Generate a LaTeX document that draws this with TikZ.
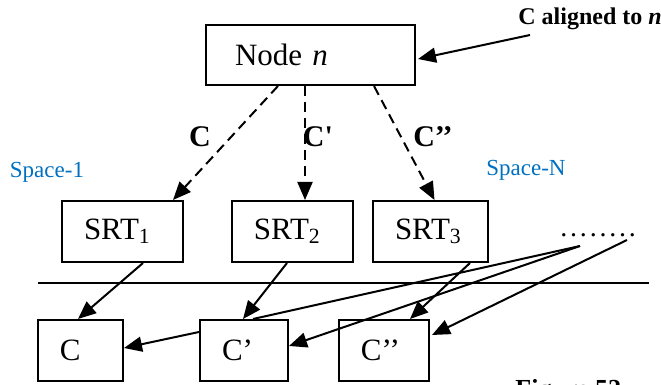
\documentclass[tikz,border=0pt]{standalone}
\usepackage{fontspec}
\setmainfont{Liberation Serif}
\usepackage{tikz}
\usetikzlibrary{arrows.meta,calc}
\definecolor{spaceblue}{RGB}{0,112,192}
\tikzset{
  box/.style={draw=black, line width=1pt, align=left, inner xsep=11pt, inner ysep=0pt, minimum height=30.5pt, font=\fontsize{15.5}{18}\selectfont},
  arrow/.style={-{Triangle[length=9pt,width=7.5pt]}, line width=1pt},
  dashedarrow/.style={arrow, dash pattern=on 5pt off 3pt},
  plainline/.style={line width=1pt},
  edgelabel/.style={font=\fontsize{15}{18}\selectfont\bfseries, inner sep=0pt},
  spacelabel/.style={text=spaceblue, font=\fontsize{11.5}{14}\selectfont, inner sep=0pt}
}

\begin{document}
\begin{tikzpicture}[x=0.5pt, y=-0.5pt]
\useasboundingbox (0,0) rectangle (661,385);
\clip (0,0) rectangle (661,385);
\node[box, inner xsep=14.5pt, text width=75.5pt, minimum height=30pt] (noden) at (310.5,55) {Node \textit{n}};
\node[box, text width=38.5pt] (srt1) at (122.5,231.5) {SRT\textsubscript{1}};
\node[box, text width=38.5pt] (srt2) at (292.5,231.5) {SRT\textsubscript{2}};
\node[box, text width=35.5pt] (srt3) at (430.5,231.5) {SRT\textsubscript{3}};
\node[box, text width=20.5pt] (cc) at (80.5,350.5) {C};
\node[box, text width=22pt] (cp) at (244,350.5) {C’};
\node[box, text width=23pt] (cpp) at (384,350.5) {C’’};
\node[anchor=base west, font=\fontsize{12}{14}\selectfont\bfseries, inner sep=0pt] (aligned) at (518,25) {C aligned to \textit{n}};
\node[edgelabel] (lblc) at (200,137) {C};
\node[edgelabel] (lblcp) at (318,137) {C\textquotesingle};
\node[edgelabel] (lblcpp) at (433,137) {C’’};
\node[spacelabel] (space1) at (47,172) {Space-1};
\node[spacelabel] (spacen) at (526,170) {Space-N};
\node[anchor=base west, font=\fontsize{14}{16}\selectfont\addfontfeature{LetterSpace=10}, inner sep=0pt] (dots) at (560,237) {........};
\node[anchor=north west, font=\fontsize{13}{15}\selectfont\bfseries, inner sep=0pt] (figcap) at (515,379) {Figure 52};
\coordinate (sepw) at (38,283);
\coordinate (sepe) at (649,283);
\coordinate (fana) at (580,246);
\coordinate (fanb) at (627,240);
% top part
\draw[arrow] ($(aligned.base west)+(12,10)$) -- ($(noden.east)+(2,4)$);
\draw[dashedarrow] ($(noden.south west)+(73,0)$) -- ($(srt1.north east)+(-11,0)$);
\draw[dashedarrow] ($(noden.south)+(-5.5,0)$) -- ($(srt2.north)+(12.5,0)$);
\draw[dashedarrow] ($(noden.south)+(63.5,0)$) -- ($(srt3.north)+(4,0)$);
\draw[plainline] (sepw) -- (sepe);
% bottom part
\draw[arrow] ($(srt1.south)+(20.5,0)$) -- ($(cc.north)+(-2.5,0)$);
\draw[arrow] ($(srt2.south)+(-5.5,0)$) -- ($(cp.north)+(-1,0)$);
\draw[arrow] ($(srt3.south)+(39.5,0)$) -- ($(cpp.north)+(26,0)$);
\draw[arrow] ($(cp.west)+(0,-18.5)$) -- ($(cc.east)+(0,-2.5)$);
\draw[plainline] (fana) -- ($(cp.north)+(9,0)$);
\draw[arrow] (fana) -- ($(cp.east)+(0,-4.5)$);
\draw[arrow] (fanb) -- ($(cpp.east)+(2,-15.5)$);
\end{tikzpicture}
\end{document}
